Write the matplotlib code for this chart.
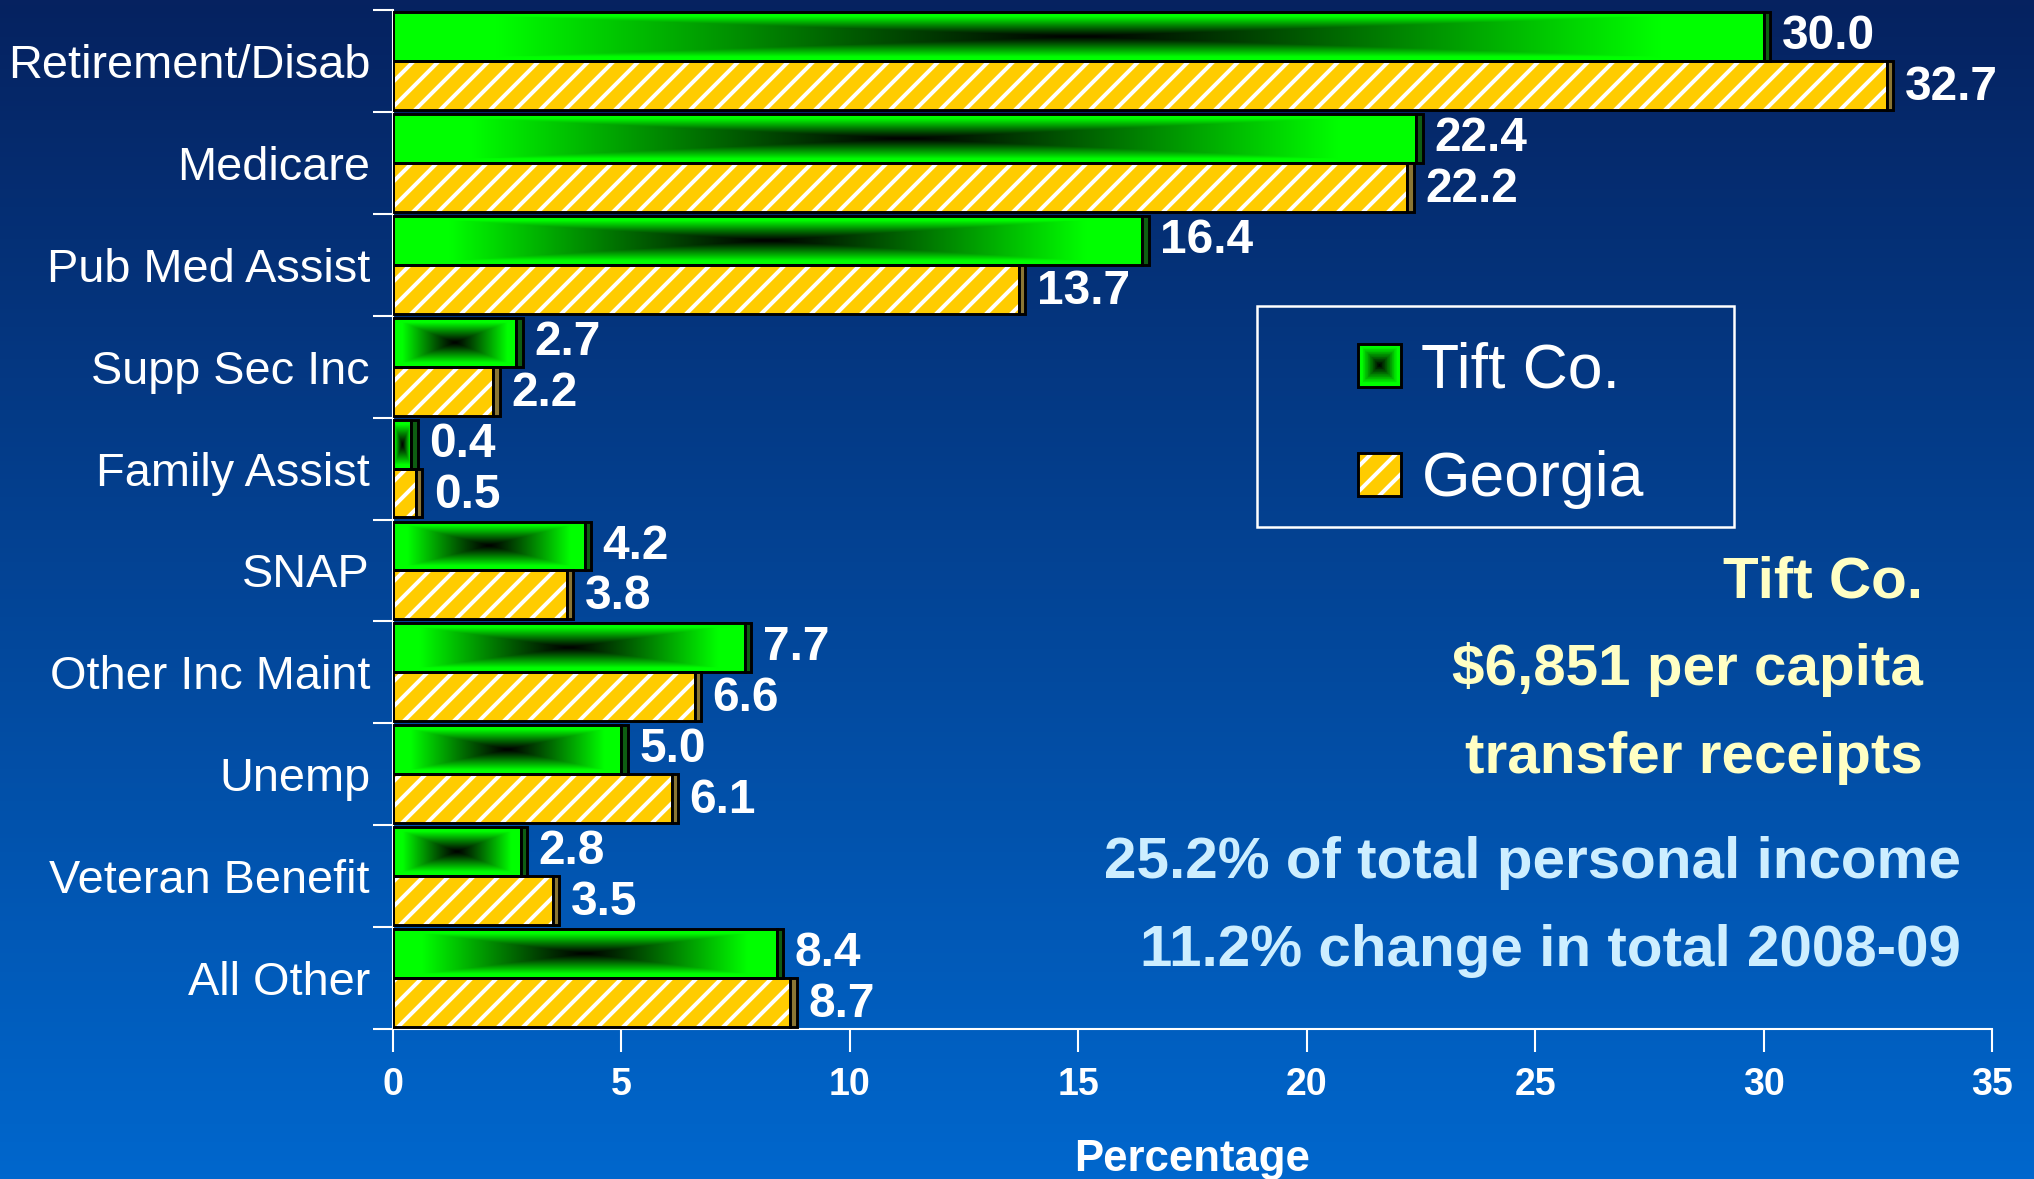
import numpy as np
import matplotlib
matplotlib.use("Agg")
import matplotlib.pyplot as plt
from matplotlib.patches import Patch, Rectangle
from matplotlib.legend_handler import HandlerBase

categories = ["Retirement/Disab", "Medicare", "Pub Med Assist", "Supp Sec Inc",
              "Family Assist", "SNAP", "Other Inc Maint", "Unemp",
              "Veteran Benefit", "All Other"]
tift = [30.0, 22.4, 16.4, 2.7, 0.4, 4.2, 7.7, 5.0, 2.8, 8.4]
georgia = [32.7, 22.2, 13.7, 2.2, 0.5, 3.8, 6.6, 6.1, 3.5, 8.7]
xticks = [0, 5, 10, 15, 20, 25, 30, 35]
notes_yellow = ["Tift Co.", "$6,851 per capita", "transfer receipts"]
notes_blue = ["25.2% of total personal income", "11.2% change in total 2008-09"]

ARIAL = ["Liberation Sans", "DejaVu Sans"]
GOLD = "#ffcc00"
plt.rcParams["hatch.linewidth"] = 1.9

bar_h = 0.48
depth = 0.14


def shade(t):
    return np.clip(t / 0.85, 0, 1) ** 1.1


fig = plt.figure(figsize=(13.56, 7.86), dpi=150)

# background gradient
bg = fig.add_axes([0, 0, 1, 1], zorder=-10)
top = np.array([0x06, 0x22, 0x60]) / 255
bot = np.array([0x00, 0x67, 0xcd]) / 255
g = np.linspace(0, 1, 256)[:, None]
grad = top[None, :] * (1 - g) + bot[None, :] * g
bg.imshow(grad[:, None, :], aspect="auto", extent=(0, 1, 0, 1))
bg.set_axis_off()

ax = fig.add_axes([0.1932, 0.1272, 0.7862, 0.8643])
ax.set_facecolor("none")

y = np.arange(len(categories))
nx, ny = 300, 40
uu, vv = np.meshgrid(np.linspace(-1, 1, nx), np.linspace(-1, 1, ny))
tt = np.maximum(np.abs(uu), np.abs(vv))
img = np.zeros((ny, nx, 3))
img[..., 1] = shade(tt)

for yi, v in zip(y, tift):
    ax.imshow(img, extent=(0, v, yi, yi - bar_h), aspect="auto",
              interpolation="bilinear", zorder=2)
ax.barh(y - bar_h / 2, tift, height=bar_h, fill=False, edgecolor="black",
        linewidth=1.4, zorder=3)
ax.barh(y - bar_h / 2, depth, left=tift, height=bar_h, color="#0e5e12",
        edgecolor="black", linewidth=1.4, zorder=3)

ax.barh(y + bar_h / 2, georgia, height=bar_h, color=GOLD, edgecolor="white",
        linewidth=0, hatch="//", zorder=2)
ax.barh(y + bar_h / 2, georgia, height=bar_h, fill=False, edgecolor="black",
        linewidth=1.4, zorder=3)
ax.barh(y + bar_h / 2, depth, left=georgia, height=bar_h, color="#8a7634",
        edgecolor="black", linewidth=1.4, zorder=3)

for yi, a, b in zip(y, tift, georgia):
    ax.text(a + depth + 0.25, yi - bar_h / 2, f"{a:.1f}", color="white",
            fontsize=23, fontweight="bold", family=ARIAL, va="center", zorder=4)
    ax.text(b + depth + 0.25, yi + bar_h / 2 + 0.02, f"{b:.1f}", color="white",
            fontsize=23, fontweight="bold", family=ARIAL, va="center", zorder=4)

ax.set_xlim(0, 35)
ax.set_ylim(len(categories) - 0.5, -0.5)
ax.set_xticks(xticks)
ax.set_xticklabels([str(t) for t in xticks], color="white", fontsize=18,
                   fontweight="bold", family=ARIAL)
ax.set_yticks(y)
ax.set_yticklabels(categories, color="white", fontsize=22.5, family=ARIAL)
ax.set_yticks(np.arange(len(categories) + 1) - 0.5, minor=True)
ax.tick_params(axis="y", which="major", length=0, pad=11)
ax.tick_params(axis="y", which="minor", length=9.6, width=1, color="white")
ax.tick_params(axis="x", length=11, width=1, color="white", pad=7)
for s in ["top", "right"]:
    ax.spines[s].set_visible(False)
for s in ["left", "bottom"]:
    ax.spines[s].set_color("white")
    ax.spines[s].set_linewidth(1)

ax.set_xlabel("Percentage", color="white", fontsize=21, fontweight="bold",
              family=ARIAL)
ax.xaxis.label.set_va("center")
ax.xaxis.set_label_coords(0.5, -0.128)


class GradSquare(HandlerBase):
    def create_artists(self, legend, orig_handle, xd, yd, width, height,
                       fontsize, trans):
        arts = []
        n = 30
        for k in range(n):
            s = 1 - k / n
            w, h = width * s, height * s
            arts.append(Rectangle((-xd + (width - w) / 2, -yd + (height - h) / 2),
                                  w, h, facecolor=(0, float(shade(s)), 0),
                                  edgecolor="none", transform=trans))
        arts.append(Rectangle((-xd, -yd), width, height, fill=False,
                              edgecolor="black", linewidth=1.4, transform=trans))
        return arts


class HatchSquare(HandlerBase):
    def create_artists(self, legend, orig_handle, xd, yd, width, height,
                       fontsize, trans):
        r = Rectangle((-xd, -yd), width, height, facecolor=GOLD,
                      edgecolor="white", linewidth=0, hatch="//",
                      transform=trans)
        f = Rectangle((-xd, -yd), width, height, fill=False,
                      edgecolor="black", linewidth=1.4, transform=trans)
        return [r, f]


h_tift = Patch(label="Tift Co.")
h_ga = Patch(label="Georgia")
leg = fig.legend(handles=[h_tift, h_ga],
                 handler_map={h_tift: GradSquare(), h_ga: HatchSquare()},
                 loc="center", bbox_to_anchor=(0.738, 0.6395), frameon=False,
                 prop={"family": ARIAL, "size": 30}, labelcolor="white",
                 handlelength=0.68, handleheight=0.68, handletextpad=0.33,
                 labelspacing=0.8)

fig.patches.append(Rectangle((1257 / 2034, 1 - 527 / 1179), 477 / 2034,
                             221 / 1179, transform=fig.transFigure,
                             fill=False, edgecolor="white", linewidth=1.2))

for txt, yb in zip(notes_yellow, [598, 685, 773]):
    fig.text(1923 / 2034, 1 - yb / 1179, txt, color="#ffffc4", fontsize=28,
             fontweight="bold", family=ARIAL, ha="right", va="baseline")
for txt, yb in zip(notes_blue, [878, 966]):
    fig.text(1961 / 2034, 1 - yb / 1179, txt, color="#cdeeff", fontsize=28,
             fontweight="bold", family=ARIAL, ha="right", va="baseline")

fig.savefig("out.png", dpi=150)
